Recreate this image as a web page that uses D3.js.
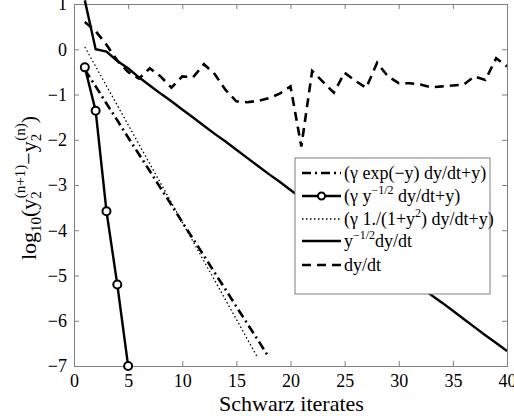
<!DOCTYPE html>
<html>
<head>
<meta charset="utf-8">
<script src="https://cdn.jsdelivr.net/npm/d3@7"></script>
<style>
  body { margin: 0; background: #fff; }
  svg text { font-family: "Liberation Serif", "Times New Roman", Times, "DejaVu Serif", serif !important; fill: #000; }
</style>
</head>
<body>
<div class="chart"></div>
<script>
// data (x = iterate number)
const itersLong = d3.range(1, 41);
const dydt = [0.6, 0.4, 0.1, -0.25, -0.5, -0.65, -0.42, -0.6, -0.85, -0.6,
  -0.62, -0.33, -0.55, -0.9, -1.15, -1.17, -1.14, -1.08, -0.98, -0.82,
  -2.15, -0.48, -0.72, -0.96, -0.52, -0.7, -0.85, -0.3, -0.6, -0.75,
  -0.75, -0.78, -0.84, -0.82, -0.8, -0.78, -0.6, -0.68, -0.2, -0.38];
const ySqrtDydt = [1.08, 0.0, -0.05, -0.26, -0.42, -0.62, -0.80, -0.98, -1.15, -1.33,
  -1.51, -1.69, -1.87, -2.04, -2.22, -2.40, -2.58, -2.76, -2.93, -3.11,
  -3.29, -3.47, -3.65, -3.82, -4.00, -4.18, -4.36, -4.54, -4.71, -4.89,
  -5.07, -5.25, -5.43, -5.60, -5.78, -5.96, -6.14, -6.32, -6.49, -6.67];
const itersExp = d3.range(1, 19);
const gammaExp = [-0.45, -0.82, -1.20, -1.57, -1.95, -2.32, -2.69, -3.07, -3.44,
  -3.82, -4.19, -4.56, -4.94, -5.31, -5.69, -6.06, -6.43, -6.81];
const itersRat = d3.range(1, 18);
const gammaRat = [0.05, -0.38, -0.81, -1.24, -1.67, -2.10, -2.53, -2.96, -3.39,
  -3.82, -4.25, -4.68, -5.11, -5.54, -5.97, -6.40, -6.83];
const itersSqrt = [1, 2, 3, 4, 5];
const gammaSqrt = [-0.4, -1.36, -3.58, -5.2, -7.0];

const xTicks = [0, 5, 10, 15, 20, 25, 30, 35, 40];
const yTicks = [-7, -6, -5, -4, -3, -2, -1, 0, 1];

const W = 514, H = 416;
const margin = ({top: 4, right: 7, bottom: 50, left: 74});
const svg = d3.select(".chart").append("svg")
  .attr("width", W).attr("height", H);

const x = d3.scaleLinear().domain([0, 40]).range([margin.left, W - margin.right]);
const y = d3.scaleLinear().domain([-7, 1]).range([H - margin.bottom, margin.top]);

// axes box + inward ticks
const axisCol = "#7f7f7f";
const tickFmt = d => d < 0 ? "\u2212" + Math.abs(d) : String(d);
svg.append("g")
  .attr("transform", "translate(0," + y(-7) + ")")
  .call(d3.axisBottom(x).tickValues(xTicks).tickSize(-5).tickPadding(8).tickFormat(tickFmt))
  .call(g => g.selectAll("text").attr("font-size", 18));
svg.append("g")
  .attr("transform", "translate(" + x(0) + ",0)")
  .call(d3.axisLeft(y).tickValues(yTicks).tickSize(-5).tickPadding(7).tickFormat(tickFmt))
  .call(g => g.selectAll("text").attr("font-size", 18));
svg.append("g")
  .attr("transform", "translate(0," + y(1) + ")")
  .call(d3.axisTop(x).tickValues(xTicks).tickSize(-5).tickFormat(""));
svg.append("g")
  .attr("transform", "translate(" + x(40) + ",0)")
  .call(d3.axisRight(y).tickValues(yTicks).tickSize(-5).tickFormat(""));
svg.selectAll(".domain, .tick line").attr("stroke", axisCol);

// clip lines to axes (a bit of slack at top like the original)
svg.append("clipPath").attr("id", "clip")
  .append("rect").attr("x", x(0)).attr("y", 0)
  .attr("width", x(40) - x(0)).attr("height", y(-7) - 0);

const plot = svg.append("g").attr("clip-path", "url(#clip)");
const line = d3.line().x(d => x(d[0])).y(d => y(d[1]));

const series = [
  {xs: itersLong, ys: dydt, dash: "9,6", w: 2.6},
  {xs: itersLong, ys: ySqrtDydt, dash: null, w: 2.4},
  {xs: itersExp, ys: gammaExp, dash: "9,4,2,4", w: 2.6},
  {xs: itersRat, ys: gammaRat, dash: "1.5,2.5", w: 1.3},
  {xs: itersSqrt, ys: gammaSqrt, dash: null, w: 2.4}
];
series.forEach(s => {
  plot.append("path")
    .datum(d3.zip(s.xs, s.ys))
    .attr("fill", "none").attr("stroke", "#000")
    .attr("stroke-width", s.w)
    .attr("stroke-dasharray", s.dash)
    .attr("d", line);
});
svg.selectAll(".marker")
  .data(d3.zip(itersSqrt, gammaSqrt))
  .join("circle")
  .attr("class", "marker")
  .attr("cx", d => x(d[0])).attr("cy", d => y(d[1]))
  .attr("r", 4).attr("fill", "#fff").attr("stroke", "#000").attr("stroke-width", 2);

// axis titles
svg.append("text")
  .attr("x", (x(0) + x(40)) / 2 + 1).attr("y", 411)
  .attr("text-anchor", "middle").attr("font-size", 22)
  .text("Schwarz iterates");

const yl = svg.append("text")
  .attr("transform", "translate(36," + 188 + ") rotate(-90)")
  .attr("text-anchor", "middle").attr("font-size", 22);
yl.append("tspan").text("log");
yl.append("tspan").attr("font-size", 15).attr("dy", 5).text("10");
yl.append("tspan").attr("dy", -5).text("(y");
yl.append("tspan").attr("font-size", 15).attr("dy", 5).text("2");
yl.append("tspan").attr("font-size", 15).attr("dx", -7).attr("dy", -16).text("(n+1)");
yl.append("tspan").attr("dy", 11).text("\u2212y");
yl.append("tspan").attr("font-size", 15).attr("dy", 5).text("2");
yl.append("tspan").attr("font-size", 15).attr("dx", -7).attr("dy", -16).text("(n)");
yl.append("tspan").attr("dy", 11).text(")");

// legend
const lg = svg.append("g").attr("transform", "translate(295,158)");
lg.append("rect").attr("width", 195).attr("height", 136)
  .attr("fill", "#fff").attr("stroke", axisCol).attr("stroke-width", 1);
const legendRows = [
  {dash: "9,4,2,4", w: 2.6, marker: false, parts: [["(\u03b3 exp(\u2212y) dy/dt+y)", 0]]},
  {dash: null, w: 2.4, marker: true, parts: [["(\u03b3 y", 0], ["\u22121/2", 1], [" dy/dt+y)", 0]]},
  {dash: "1.5,2.5", w: 1.3, marker: false, parts: [["(\u03b3 1./(1+y", 0], ["2", 1], [") dy/dt+y)", 0]]},
  {dash: null, w: 2.4, marker: false, parts: [["y", 0], ["\u22121/2", 1], ["dy/dt", 0]]},
  {dash: "9,6", w: 2.6, marker: false, parts: [["dy/dt", 0]]}
];
const rowY = [15, 38, 61, 83, 107];
legendRows.forEach((r, i) => {
  const yy = rowY[i];
  lg.append("line").attr("x1", 7).attr("x2", 46).attr("y1", yy).attr("y2", yy)
    .attr("stroke", "#000").attr("stroke-width", r.w).attr("stroke-dasharray", r.dash);
  if (r.marker) lg.append("circle").attr("cx", 26.5).attr("cy", yy).attr("r", 3.5)
    .attr("fill", "#fff").attr("stroke", "#000").attr("stroke-width", 2);
  const t = lg.append("text").attr("x", 49).attr("y", yy + 6).attr("font-size", 18);
  let prevSup = 0;
  r.parts.forEach(p => {
    const ts = t.append("tspan").text(p[0]);
    if (p[1] && !prevSup) ts.attr("font-size", 12).attr("dy", -8);
    if (!p[1] && prevSup) ts.attr("dy", 8);
    prevSup = p[1];
  });
});
</script>
</body>
</html>
